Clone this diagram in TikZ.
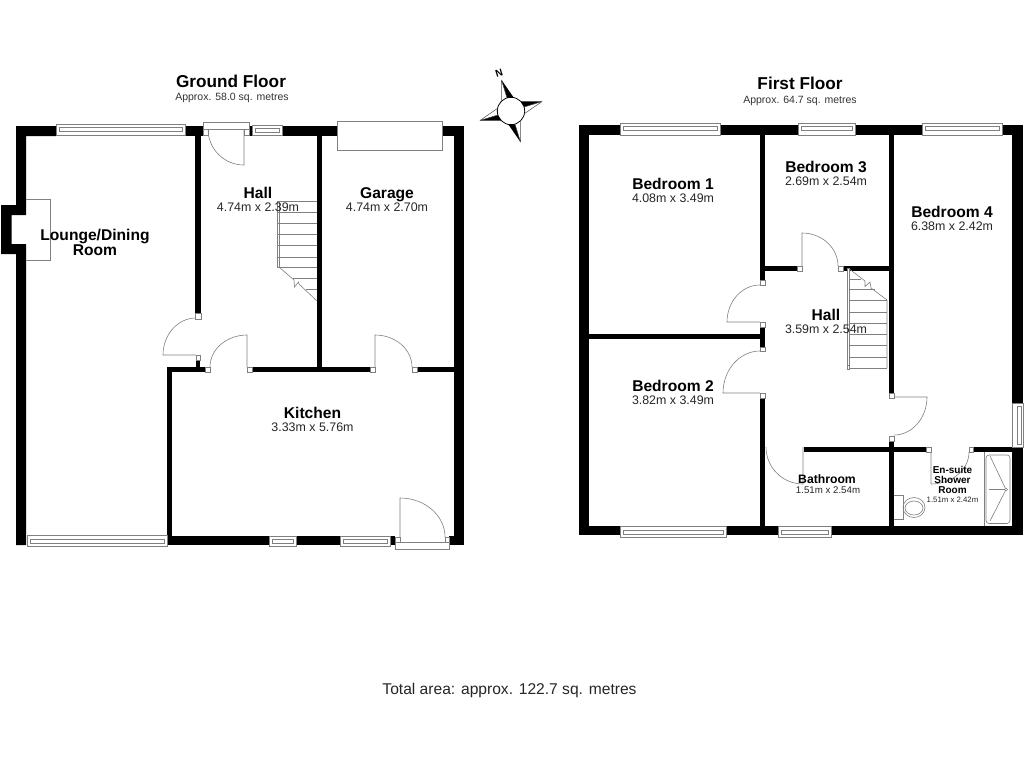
\documentclass[tikz,border=0pt]{standalone}
\usepackage{fontspec}
\setmainfont{Liberation Sans}
\usetikzlibrary{positioning}

\tikzset{
	wall/.style={fill=black,draw=none},
	thinline/.style={draw=black!50,line width=0.6pt},
	frame/.style={draw=black!50,fill=white,line width=0.6pt},
	floorname/.style={font=\bfseries\fontsize{17.2}{18}\selectfont,inner sep=0pt,anchor=base},
	floorarea/.style={font=\fontsize{10.5}{12}\selectfont,text=black!80,inner sep=0pt,anchor=base},
	roomname/.style={font=\bfseries\fontsize{15.6}{16}\selectfont,inner sep=0pt,anchor=base,text height=11pt,text depth=3pt},
	roomsize/.style={font=\fontsize{12.4}{13}\selectfont,text=black!85,inner sep=0pt,text height=9pt,text depth=3pt},
	smallname/.style={font=\bfseries\fontsize{12.2}{13}\selectfont,inner sep=0pt,anchor=base},
	smallsize/.style={font=\fontsize{9.7}{11}\selectfont,text=black!85,inner sep=0pt,anchor=base},
	tinyname/.style={font=\bfseries\fontsize{10}{11}\selectfont,inner sep=0pt,anchor=base},
	tinysize/.style={font=\fontsize{7.8}{9}\selectfont,text=black!85,inner sep=0pt,anchor=base}
}

\begin{document}
\begin{tikzpicture}[x=1pt,y=-1pt]
	\useasboundingbox (0,0) rectangle (1024,768);
	\fill[white] (0,0) rectangle (1024,768);

	% ground floor walls
	\fill[wall] (16,126) -- (56,126) -- (56,136) -- (26,136) -- (26,215) -- (11.5,215) -- (11.5,244) -- (26,244)
		-- (26,545) -- (16,545) -- (16,254) -- (1,254) -- (1,205) -- (16,205) -- cycle;
	\fill[wall] (185,126) rectangle (203,136);
	\fill[wall] (195,136) rectangle (200.5,313);
	\fill[wall] (249,126) rectangle (252,136);
	\fill[wall] (282,126) rectangle (337,136);
	\fill[wall] (442,126) rectangle (464,136);
	\fill[wall] (454,136) rectangle (464,545);
	\fill[wall] (317,136) rectangle (322,367);
	\fill[wall] (196,360) rectangle (200,367);
	\fill[wall] (167,367) rectangle (205,372);
	\fill[wall] (252,367) rectangle (370,372);
	\fill[wall] (417,367) rectangle (454,372);
	\fill[wall] (167,372) rectangle (172,536);
	\fill[wall] (167,536) rectangle (269,545);
	\fill[wall] (296,536) rectangle (340,545);
	\fill[wall] (390,536) rectangle (395,545);
	\fill[wall] (449,536) rectangle (454,545);

	% first floor walls
	\fill[wall] (579,125) rectangle (620,135);
	\fill[wall] (720,125) rectangle (798,135);
	\fill[wall] (855,125) rectangle (922,135);
	\fill[wall] (1002,125) rectangle (1023,135);
	\fill[wall] (579,135) rectangle (589,526);
	\fill[wall] (1012,135) rectangle (1023,403);
	\fill[wall] (1012,447) rectangle (1023,535);
	\fill[wall] (760,135) rectangle (765,280);
	\fill[wall] (889,135) rectangle (894,393);
	\fill[wall] (765,266) rectangle (797,271);
	\fill[wall] (843,266) rectangle (889,271);
	\fill[wall] (760,327) rectangle (765,347);
	\fill[wall] (589,334) rectangle (760,339);
	\fill[wall] (760,398) rectangle (765,526);
	\fill[wall] (889,441) rectangle (894,526);
	\fill[wall] (804,447) rectangle (926,452);
	\fill[wall] (973,447) rectangle (1012,452);
	\fill[wall] (579,526) rectangle (620,535);
	\fill[wall] (726,526) rectangle (778,535);
	\fill[wall] (831,526) rectangle (1023,535);

	% windows
	\foreach \xa/\ya/\xb/\yb in {56/124/185/135,252/125/282/135,620/123/720/135,798/123/855/135,922/123/1002/135}{
		\draw[frame] (\xa,\ya) rectangle (\xb,\yb);
		\draw[frame] ({\xa+3},{\ya+3}) rectangle ({\xb-3},{\ya+7});
	}
	\foreach \xa/\ya/\xb/\yb in {27/535/167/546,269/536/296/546,340/536/390/546,620/526/726/537,778/526/831/537}{
		\draw[frame] (\xa,\ya) rectangle (\xb,\yb);
		\draw[frame] ({\xa+3},{\yb-7}) rectangle ({\xb-3},{\yb-3});
	}
	\draw[frame] (1012.5,403) rectangle (1023,447);
	\draw[frame] (1017,406) rectangle (1021,444);

	% garage door and fireplace
	\draw[frame] (337,121) rectangle (442,150);
	\draw[thinline] (26,199) -- (50.5,199) -- (50.5,260) -- (26,260);

	% door jambs
	\foreach \xa/\ya/\xb/\yb in {203/129/208/135,244/129/249/135,195/313/201/319,196/355/200/360,205/367/210/372,
		247/367/252/372,370/367/375/372,412/367/417/372,395/537/400/542,445/537/449/542,
		797/266/802/271,838/266/843/271,760/280/765/285,760/322/765/327,760/347/765/351,760/393/765/398,
		889/393/894/398,889/436/894/441,926/447/931/452,969/447/973/452}{
		\draw[frame] (\xa,\ya) rectangle (\xb,\yb);
	}
	\draw[frame] (203,122) rectangle (249,129);
	\draw[frame] (395,542) rectangle (449,549);

	% door leaves
	\draw[thinline] (208,129) arc (180:90:36) -- (244,129);
	\draw[thinline] (196,318) arc (270:180:33 and 37) -- (196,355);
	\draw[thinline] (210,367) arc (180:270:37 and 32) -- (247,367);
	\draw[thinline] (412,367) arc (0:-90:37 and 32) -- (375,367);
	\draw[thinline] (445,537) arc (0:-90:45 and 39) -- (400,537);
	\draw[thinline] (838,266) arc (0:-90:36 and 33) -- (802,266);
	\draw[thinline] (760,285) arc (270:180:33 and 37) -- (760,322);
	\draw[thinline] (760,351) arc (270:180:37 and 42) -- (760,393);
	\draw[thinline] (894,435) arc (90:0:33 and 38) -- (894,397);
	\draw[thinline] (766,447) arc (180:90:37) -- (803,447);
	\draw[thinline] (931,484) arc (90:0:38 and 32) (931,484) -- (931,452);

	% ground floor stairs
	\draw[frame] (277,201) rectangle (279,267);
	\foreach \y in {201,212,223,234,245,257,267}{
		\draw[thinline] (277,\y) -- (317,\y);
	}
	\draw[thinline] (293,278) -- (317,278);
	\draw[thinline] (306,289) -- (317,289);
	\draw[thinline] (279,267) -- (294,280) -- (294.5,287) -- (298.5,282) -- (299,284) -- (317,301);

	% first floor stairs
	\draw[frame] (847,268) rectangle (849.5,368);
	\draw[frame] (847,365) rectangle (849.5,369);
	\foreach \y in {300,312,323,334,345,357,368}{
		\draw[thinline] (849,\y) -- (887,\y);
	}
	\draw[thinline] (849,279) -- (861,279);
	\draw[thinline] (849,289) -- (875,289);
	\draw[thinline] (848,268) -- (865,281) -- (865,286.5) -- (870,282) -- (871,288) -- (887,300) -- (887,368);

	% toilet and shower
	\draw[thinline] (894,495) -- (903,495) -- (903,519) -- (894,519);
	\draw[thinline] (914,507.5) ellipse (11 and 10);
	\draw[thinline] (914,508) ellipse (9 and 7);
	\draw[thinline] (984,452) -- (984,526);
	\draw[thinline,rounded corners=3pt] (986,455) rectangle (1010,523.5);
	\draw[thinline] (990,456) -- (1005.5,488.5);
	\draw[thinline] (990,521) -- (1005.5,490.5);
	\draw[thinline] (989,489.5) -- (1004.5,489.5);
	\draw[thinline] (1006,489.5) circle (1.5);

	% compass
	\draw[black,line width=0.8pt] (511,111) circle (13.7);
	\foreach \ang/\side in {17/1,-73/-1,197/1,107/-1}{
		\begin{scope}[shift={(511,111)},rotate=\ang]
			\fill[black] (0,-32.5) -- ({\side*6.5},-12) -- (0,-14) -- cycle;
			\draw[black!70,line width=0.5pt] (0,-32.5) -- ({-\side*6.5},-12) (0,-32.5) -- (0,-14);
		\end{scope}
	}
	\node[font=\bfseries\fontsize{10}{11}\selectfont,rotate=17,inner sep=0pt] (north) at (499,73) {N};

	% ground floor labels
	\node[floorname] (groundfloor) at (231,87) {Ground Floor};
	\node[floorarea] (groundarea) at (232,100.7) {Approx. 58.0 sq. metres};
	\node[roomname] (hallg) at (258,198) {Hall};
	\node[roomsize,below=1pt of hallg] (hallgsize) {4.74m x 2.39m};
	\node[roomname] (garage) at (387,198) {Garage};
	\node[roomsize,below=1pt of garage] (garagesize) {4.74m x 2.70m};
	\node[font=\bfseries\fontsize{15.6}{15.5}\selectfont,align=center,inner sep=0pt] (lounge) at (95,242.5) {Lounge/Dining\\Room};
	\node[roomname] (kitchen) at (312.5,418) {Kitchen};
	\node[roomsize,below=1pt of kitchen] (kitchensize) {3.33m x 5.76m};

	% first floor labels
	\node[floorname] (firstfloor) at (800,89) {First Floor};
	\node[floorarea] (firstarea) at (800,103) {Approx. 64.7 sq. metres};
	\node[roomname] (bedone) at (673,189) {Bedroom 1};
	\node[roomsize,below=1pt of bedone] (bedonesize) {4.08m x 3.49m};
	\node[roomname] (bedtwo) at (673,391) {Bedroom 2};
	\node[roomsize,below=1pt of bedtwo] (bedtwosize) {3.82m x 3.49m};
	\node[roomname] (bedthree) at (826,172) {Bedroom 3};
	\node[roomsize,below=1pt of bedthree] (bedthreesize) {2.69m x 2.54m};
	\node[roomname] (bedfour) at (952,217) {Bedroom 4};
	\node[roomsize,below=1pt of bedfour] (bedfoursize) {6.38m x 2.42m};
	\node[roomname] (hallf) at (826,320) {Hall};
	\node[roomsize,below=1pt of hallf] (hallfsize) {3.59m x 2.54m};
	\node[smallname] (bathroom) at (827,483) {Bathroom};
	\node[smallsize] (bathroomsize) at (828,493.5) {1.51m x 2.54m};
	\node[tinyname] (ensuite) at (952.5,473) {En-suite};
	\node[tinyname] (shower) at (952.5,483) {Shower};
	\node[tinyname] (showerroom) at (952.5,493) {Room};
	\node[tinysize] (ensuitesize) at (952.5,502) {1.51m x 2.42m};

	\node[font=\fontsize{15.6}{17}\selectfont,text=black!85,inner sep=0pt,anchor=base] (total) at (509.5,694) {Total area: approx. 122.7 sq. metres};
\end{tikzpicture}
\end{document}
